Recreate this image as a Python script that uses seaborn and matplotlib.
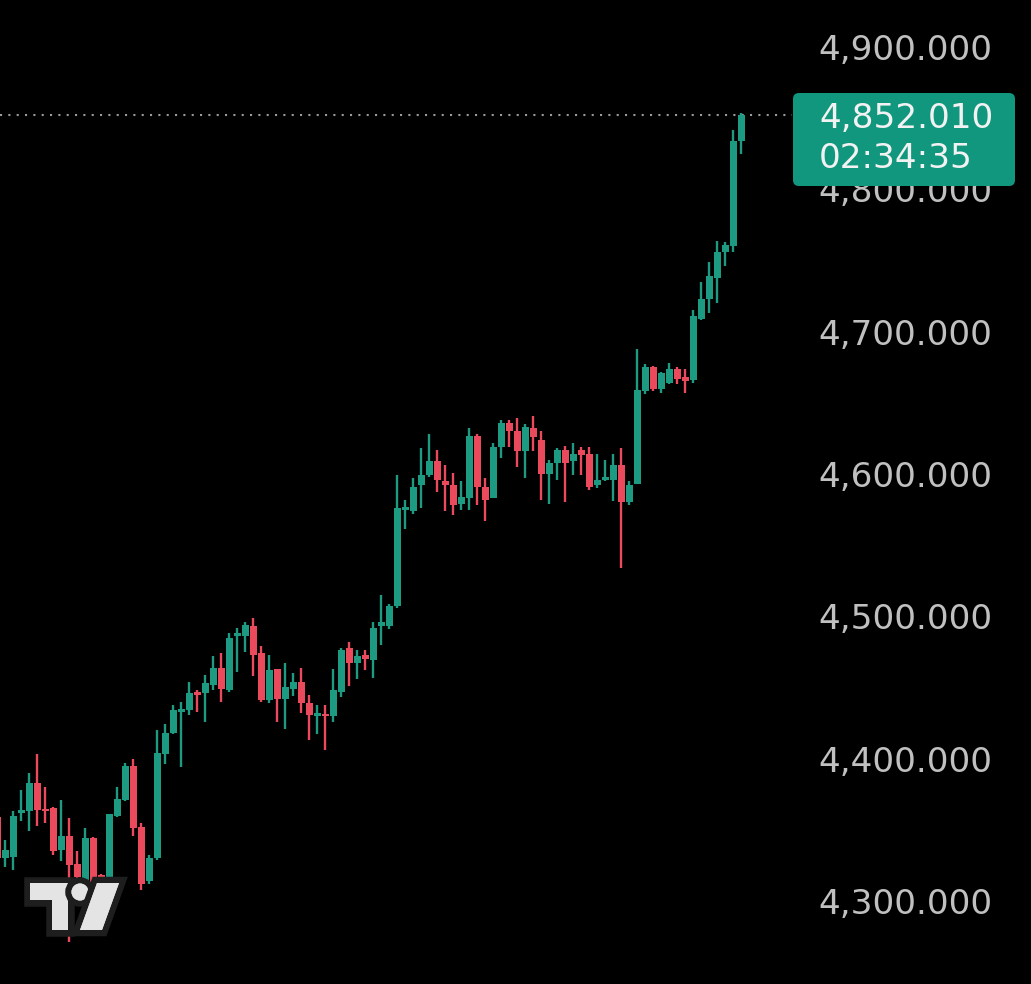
import numpy as np
import pandas as pd
import seaborn as sns
import matplotlib
matplotlib.use("Agg")
import matplotlib.pyplot as plt
from matplotlib.patches import FancyBboxPatch, Polygon, Circle
import matplotlib.patheffects as pe

# ---------------- data ----------------
candle_index = list(range(-1, 93))
opens = [4359, 4330, 4331, 4362, 4363, 4383, 4364, 4365, 4336, 4346,
         4326, 4310, 4344, 4318, 4308, 4360, 4371, 4395, 4352, 4314,
         4330, 4403, 4418, 4433, 4434, 4447, 4446, 4452, 4464, 4448,
         4486, 4486, 4493, 4474, 4441, 4463, 4442, 4449, 4454, 4439,
         4430, 4431, 4430, 4447, 4478, 4467, 4473, 4469, 4493, 4493,
         4507, 4575, 4574, 4592, 4599, 4609, 4595, 4592, 4579, 4583,
         4627, 4591, 4583, 4619, 4636, 4630, 4616, 4632, 4624, 4600,
         4608, 4617, 4609, 4617, 4614, 4592, 4596, 4596, 4606, 4580,
         4593, 4658, 4675, 4660, 4664, 4674, 4668, 4666, 4709, 4723,
         4738, 4756, 4760, 4834]
highs = [4362, 4343, 4363, 4378, 4390, 4403, 4380, 4366, 4371, 4358,
         4335, 4351, 4345, 4319, 4361, 4380, 4397, 4400, 4355, 4332,
         4420, 4424, 4438, 4440, 4454, 4448, 4459, 4472, 4474, 4488,
         4492, 4496, 4499, 4479, 4473, 4463, 4467, 4460, 4464, 4445,
         4438, 4438, 4463, 4478, 4482, 4476, 4476, 4496, 4515, 4509,
         4599, 4582, 4597, 4618, 4628, 4617, 4606, 4601, 4595, 4632,
         4628, 4597, 4622, 4638, 4638, 4639, 4635, 4641, 4630, 4610,
         4618, 4620, 4622, 4619, 4619, 4614, 4610, 4614, 4618, 4595,
         4688, 4677, 4676, 4672, 4678, 4675, 4674, 4715, 4735, 4749,
         4764, 4763, 4842, 4853.5]
lows = [4325, 4324, 4322, 4356, 4349, 4353, 4355, 4332, 4328, 4271,
        4310, 4305, 4308, 4300, 4304, 4359, 4370, 4346, 4308, 4312,
        4329, 4396, 4417, 4394, 4431, 4433, 4426, 4448, 4440, 4447,
        4461, 4475, 4458, 4440, 4439, 4426, 4421, 4444, 4432, 4413,
        4417, 4406, 4426, 4443, 4451, 4456, 4462, 4457, 4480, 4491,
        4506, 4561, 4572, 4576, 4598, 4587, 4574, 4571, 4575, 4575,
        4578, 4567, 4583, 4611, 4619, 4605, 4597, 4616, 4582, 4579,
        4596, 4580, 4599, 4599, 4589, 4590, 4595, 4581, 4534, 4578,
        4593, 4656, 4658, 4657, 4663, 4663, 4657, 4664, 4708, 4713,
        4720, 4746, 4756, 4825]
closes = [4330, 4336, 4360, 4364, 4383, 4364, 4363, 4335, 4346, 4325,
          4317, 4344, 4312, 4305, 4361, 4372, 4395, 4351, 4312, 4330,
          4404, 4418, 4434, 4435, 4446, 4445, 4453, 4464, 4449, 4485,
          4488, 4494, 4473, 4441, 4462, 4442, 4450, 4454, 4439, 4431,
          4432, 4430, 4448, 4476, 4467, 4472, 4470, 4492, 4496, 4507,
          4576, 4577, 4591, 4599, 4609, 4596, 4592, 4578, 4584, 4627,
          4591, 4582, 4619, 4636, 4630, 4616, 4633, 4626, 4600, 4608,
          4617, 4608, 4614, 4613, 4591, 4596, 4598, 4606, 4580, 4592,
          4659, 4675, 4660, 4671, 4674, 4667, 4665, 4711, 4723, 4739,
          4756, 4761, 4834, 4852.01]
tick_values = [4300, 4400, 4500, 4600, 4700, 4800, 4900]
tick_labels = ["4,300.000", "4,400.000", "4,500.000", "4,600.000",
               "4,700.000", "4,800.000", "4,900.000"]
last_price_text = "4,852.010"
countdown_text = "02:34:35"
last_price = 4852.01

df = pd.DataFrame({"i": candle_index, "open": opens, "high": highs,
                   "low": lows, "close": closes})

# ---------------- style ----------------
UP = "#1c9a82"
DOWN = "#ea4a5c"
sns.set_theme(style="dark", rc={"axes.facecolor": "black",
                                "figure.facecolor": "black",
                                "axes.grid": False})
plt.rcParams["font.family"] = ["DejaVu Sans"]

W, H, DPI = 1031, 984, 100
FS = 24.7
fig = plt.figure(figsize=(W / DPI, H / DPI), dpi=DPI, facecolor="black")
ax = fig.add_axes([0, 0, 1, 1])
ax.set_facecolor("black")

is_up = df["close"] >= df["open"]
colors = np.where(is_up, UP, DOWN)
body_low = np.minimum(df["open"], df["close"])
body_h = np.maximum(np.abs(df["close"] - df["open"]), 1.3)

ax.vlines(df["i"], df["low"], df["high"], colors=colors, linewidth=1.7, zorder=2)
ax.bar(df["i"], body_h, bottom=body_low, width=0.85, color=colors,
       linewidth=0, zorder=3)

# last price dotted line
ax.axhline(last_price, xmin=0, xmax=0.768, color="#9a9a9a",
           linewidth=1.5, linestyle=(0, (1, 3)), zorder=1)

# axes limits (candle spacing ~8 px)
spacing = 8.0
x0 = 5.3
xmin = -x0 / spacing
ax.set_xlim(xmin, xmin + W / spacing)
px_per_unit = 1.4233
ax.set_ylim(4900 - (H - 47) / px_per_unit, 4900 + 47 / px_per_unit)

ax.set_xticks([])
ax.yaxis.tick_right()
ax.set_yticks(tick_values)
ax.set_yticklabels(tick_labels)
ax.tick_params(axis="y", length=0, pad=-(W - 818) * 72 / DPI,
               labelsize=FS, labelcolor="#c0c0c0")
for s in ax.spines.values():
    s.set_visible(False)

# ---------------- overlay (pixel coords) ----------------
ov = fig.add_axes([0, 0, 1, 1])
ov.set_xlim(0, W)
ov.set_ylim(H, 0)
ov.axis("off")
ov.patch.set_alpha(0)

box = FancyBboxPatch((793, 93), 222, 93,
                     boxstyle="round,pad=0,rounding_size=6",
                     facecolor="#12977f", edgecolor="none", zorder=5)
ov.add_patch(box)
ov.text(819, 119, last_price_text, color="#f2f2f2", fontsize=FS,
        ha="left", va="center", zorder=6)
ov.text(819, 159, countdown_text, color="#f2f2f2", fontsize=FS,
        ha="left", va="center", zorder=6)

# TradingView-style logo
stroke = [pe.withStroke(linewidth=9, foreground="#1e1e1e")]
logo_col = "#e4e4e4"
t_shape = Polygon([(30, 883), (68, 883), (68, 930), (52, 930), (52, 900),
                   (30, 900)], closed=True, facecolor=logo_col,
                  edgecolor="none", zorder=7)
dot = Circle((80, 892), 8.5, facecolor=logo_col, edgecolor="none", zorder=7)
slash = Polygon([(97, 883), (119, 883), (102, 930), (80, 930)], closed=True,
                facecolor=logo_col, edgecolor="none", zorder=7)
for p in (t_shape, dot, slash):
    p.set_path_effects(stroke + [pe.Normal()])
    ov.add_patch(p)

fig.savefig("out.png", dpi=DPI, facecolor="black")
